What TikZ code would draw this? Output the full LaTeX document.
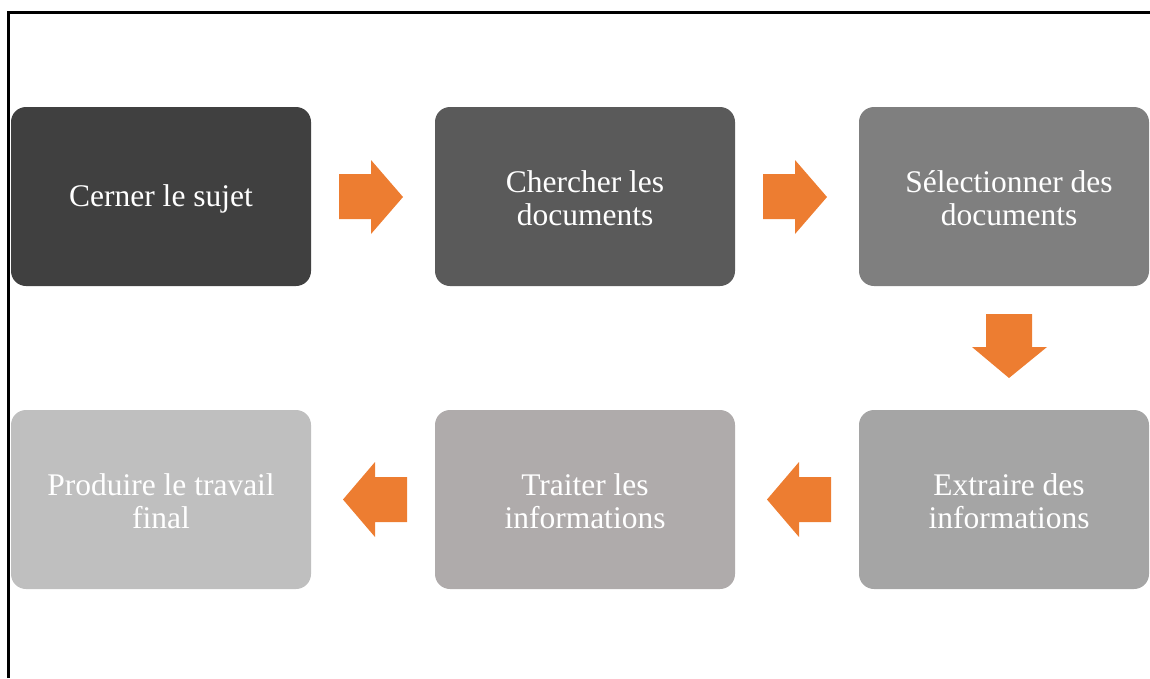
\documentclass[tikz,border=0pt]{standalone}
\usepackage{fontspec}
\setmainfont{Liberation Serif}
\definecolor{cA}{HTML}{404040}
\definecolor{cB}{HTML}{5A5A5A}
\definecolor{cC}{HTML}{7F7F7F}
\definecolor{cD}{HTML}{A5A5A5}
\definecolor{cE}{HTML}{AFABAB}
\definecolor{cF}{HTML}{BFBFBF}
\definecolor{orng}{HTML}{ED7D31}
\tikzset{
  stepbox/.style={rounded corners=15pt},
  steptext/.style={text=white, align=center, font=\fontsize{31.5}{33}\selectfont, inner sep=0pt},
  flowarrow/.style={fill=orng, draw=none},
  frameline/.style={line width=3pt, black}
}
\begin{document}
\begin{tikzpicture}[x=1pt,y=-1pt]
\useasboundingbox (0,0) rectangle (1150,678);
% frame
\coordinate (fTL) at (8.5,12.5);
\coordinate (fBL) at (8.5,678);
\coordinate (fTR) at (1150,12.5);
\draw[frameline] (fBL) -- (fTL) -- (fTR);
% boxes
\fill[cA, stepbox] (11,107) rectangle (311,286);
\fill[cB, stepbox] (435,107) rectangle (735,286);
\fill[cC, stepbox] (859,107) rectangle (1149,286);
\fill[cD, stepbox] (859,410) rectangle (1149,589);
\fill[cE, stepbox] (435,410) rectangle (735,589);
\fill[cF, stepbox] (11,410) rectangle (311,589);
% texts
\node[steptext] (t1) at (161,199) {Cerner le sujet};
\node[steptext] (t2) at (585,198) {Chercher les\\documents};
\node[steptext] (t3) at (1009,198) {Sélectionner des\\documents};
\node[steptext] (t4) at (1009,501) {Extraire des\\informations};
\node[steptext] (t5) at (585,501) {Traiter les\\informations};
\node[steptext] (t6) at (161,501) {Produire le travail\\final};
% arrows
\fill[flowarrow] (339,174) -- (371,174) -- (371,160) -- (403,197) -- (371,234) -- (371,219) -- (339,219) -- cycle;
\fill[flowarrow] (763,174) -- (795,174) -- (795,160) -- (827,197) -- (795,234) -- (795,219) -- (763,219) -- cycle;
\fill[flowarrow] (986,314) -- (1032,314) -- (1032,347) -- (1047,347) -- (1009,378) -- (972,347) -- (986,347) -- cycle;
\fill[flowarrow] (831,477) -- (799,477) -- (799,462) -- (767,499.5) -- (799,537) -- (799,522) -- (831,522) -- cycle;
\fill[flowarrow] (407,477) -- (375,477) -- (375,462) -- (343,499.5) -- (375,537) -- (375,522) -- (407,522) -- cycle;
\end{tikzpicture}
\end{document}
